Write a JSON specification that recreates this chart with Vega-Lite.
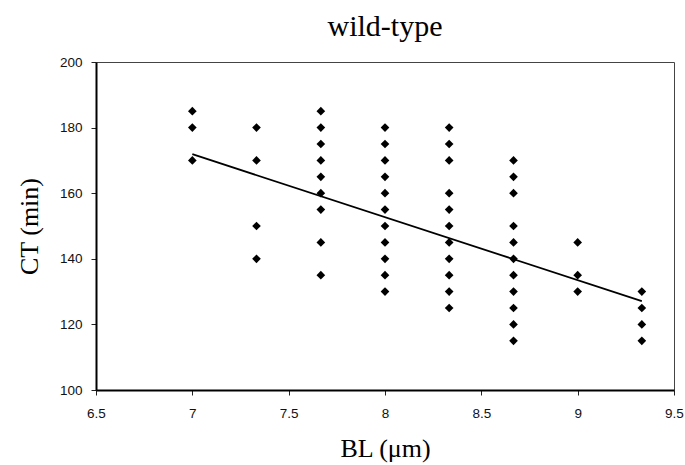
{
  "$schema": "https://vega.github.io/schema/vega-lite/v6.json",
  "autosize": {"type": "none"},
  "padding": {"left": 96, "top": 62, "right": 11, "bottom": 75},
  "width": 578,
  "height": 328,
  "background": "white",
  "title": {
    "text": "wild-type",
    "font": "Liberation Serif",
    "fontSize": 30,
    "fontWeight": "normal",
    "color": "black",
    "anchor": "middle",
    "baseline": "bottom",
    "offset": 20,
    "dy": 37
  },
  "config": {
    "view": {"stroke": "#444", "strokeWidth": 1},
    "axis": {
      "grid": false,
      "domainColor": "black",
      "domainWidth": 2,
      "tickColor": "#222",
      "tickSize": 5,
      "tickWidth": 1,
      "labelFont": "Liberation Sans",
      "labelFontSize": 13.5,
      "labelColor": "#111",
      "titleFont": "Liberation Serif",
      "titleFontSize": 26,
      "titleFontWeight": "normal",
      "titleColor": "black"
    }
  },
  "datasets": {
    "pts": [
      {"bl": 7.0, "ct": 185}, {"bl": 7.0, "ct": 180}, {"bl": 7.0, "ct": 170},
      {"bl": 7.333, "ct": 180}, {"bl": 7.333, "ct": 170}, {"bl": 7.333, "ct": 150}, {"bl": 7.333, "ct": 140},
      {"bl": 7.667, "ct": 185}, {"bl": 7.667, "ct": 180}, {"bl": 7.667, "ct": 175}, {"bl": 7.667, "ct": 170}, {"bl": 7.667, "ct": 165}, {"bl": 7.667, "ct": 160}, {"bl": 7.667, "ct": 155}, {"bl": 7.667, "ct": 145}, {"bl": 7.667, "ct": 135},
      {"bl": 8.0, "ct": 180}, {"bl": 8.0, "ct": 175}, {"bl": 8.0, "ct": 170}, {"bl": 8.0, "ct": 165}, {"bl": 8.0, "ct": 160}, {"bl": 8.0, "ct": 155}, {"bl": 8.0, "ct": 150}, {"bl": 8.0, "ct": 145}, {"bl": 8.0, "ct": 140}, {"bl": 8.0, "ct": 135}, {"bl": 8.0, "ct": 130},
      {"bl": 8.333, "ct": 180}, {"bl": 8.333, "ct": 175}, {"bl": 8.333, "ct": 170}, {"bl": 8.333, "ct": 160}, {"bl": 8.333, "ct": 155}, {"bl": 8.333, "ct": 150}, {"bl": 8.333, "ct": 145}, {"bl": 8.333, "ct": 140}, {"bl": 8.333, "ct": 135}, {"bl": 8.333, "ct": 130}, {"bl": 8.333, "ct": 125},
      {"bl": 8.667, "ct": 170}, {"bl": 8.667, "ct": 165}, {"bl": 8.667, "ct": 160}, {"bl": 8.667, "ct": 150}, {"bl": 8.667, "ct": 145}, {"bl": 8.667, "ct": 140}, {"bl": 8.667, "ct": 135}, {"bl": 8.667, "ct": 130}, {"bl": 8.667, "ct": 125}, {"bl": 8.667, "ct": 120}, {"bl": 8.667, "ct": 115},
      {"bl": 9.0, "ct": 145}, {"bl": 9.0, "ct": 135}, {"bl": 9.0, "ct": 130},
      {"bl": 9.333, "ct": 130}, {"bl": 9.333, "ct": 125}, {"bl": 9.333, "ct": 120}, {"bl": 9.333, "ct": 115}
    ],
    "fit": [
      {"bl": 7.0, "ct": 171.9},
      {"bl": 9.333, "ct": 127.1}
    ]
  },
  "layer": [
    {
      "data": {"name": "pts"},
      "mark": {"type": "point", "shape": "diamond", "filled": true, "color": "black", "size": 75, "opacity": 1},
      "encoding": {
        "x": {
          "field": "bl", "type": "quantitative",
          "scale": {"domain": [6.5, 9.5], "nice": false, "zero": false},
          "axis": {"values": [6.5, 7, 7.5, 8, 8.5, 9, 9.5], "format": "~g", "title": "BL (μm)", "labelPadding": 11, "titlePadding": 16, "labelFlush": false}
        },
        "y": {
          "field": "ct", "type": "quantitative",
          "scale": {"domain": [100, 200], "nice": false, "zero": false},
          "axis": {"values": [100, 120, 140, 160, 180, 200], "title": "CT (min)", "labelPadding": 9, "titlePadding": 17}
        }
      }
    },
    {
      "data": {"name": "fit"},
      "mark": {"type": "line", "color": "black", "strokeWidth": 1.8},
      "encoding": {
        "x": {"field": "bl", "type": "quantitative"},
        "y": {"field": "ct", "type": "quantitative"}
      }
    }
  ]
}
